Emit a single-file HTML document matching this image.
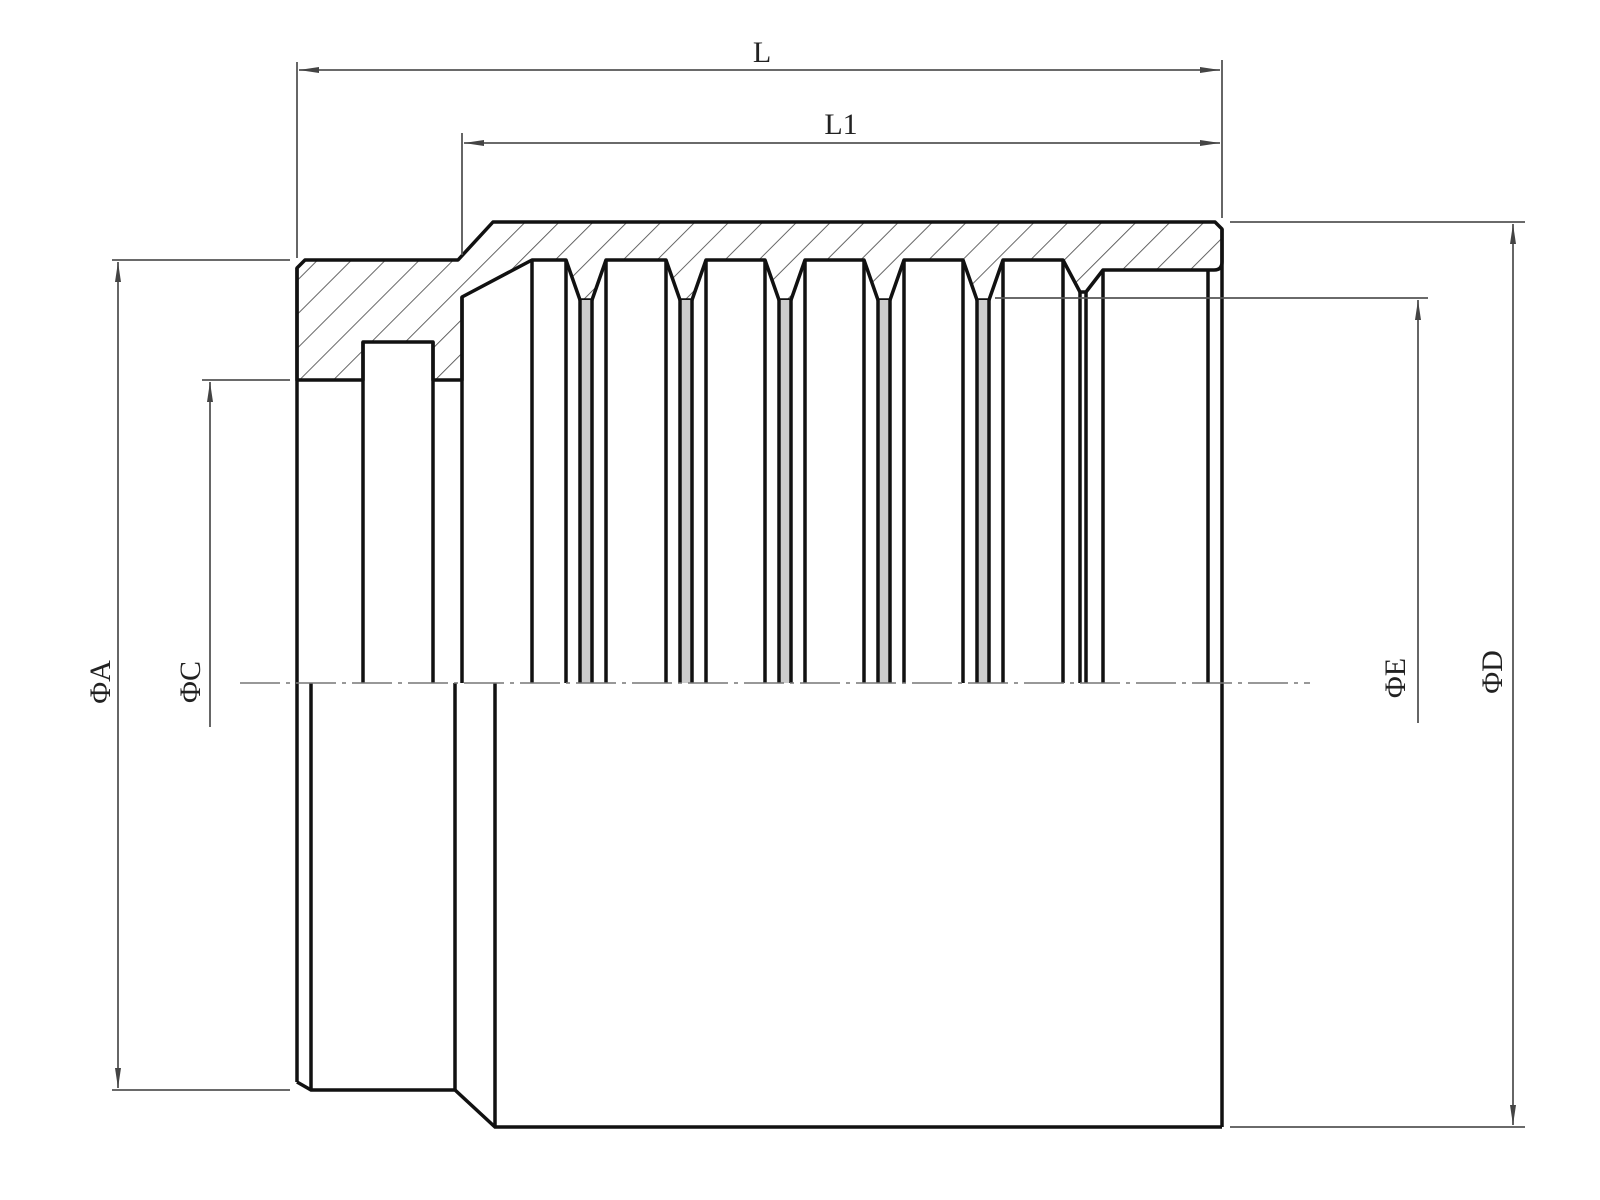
<!DOCTYPE html>
<html><head><meta charset="utf-8"><style>html,body{margin:0;padding:0;background:#fff}svg{display:block}</style></head>
<body>
<svg width="1600" height="1200" viewBox="0 0 1600 1200" xmlns="http://www.w3.org/2000/svg">
<defs>
<pattern id="h" patternUnits="userSpaceOnUse" width="24" height="24" patternTransform="rotate(45)">
<line x1="0" y1="0" x2="0" y2="24" stroke="#555" stroke-width="1.8"/>
</pattern>
<marker id="a" viewBox="0 0 20 8" refX="20" refY="4" markerWidth="20" markerHeight="8" markerUnits="userSpaceOnUse" orient="auto-start-reverse">
<path d="M0,1 L20,4 L0,7 Z" fill="#444"/>
</marker>
</defs>
<rect width="1600" height="1200" fill="#fff"/>

<path d="M297,268 L305,260 L458,260 L493,222 L1215,222 L1222,229 L1222,262 Q1222,270 1214,270 L1103,270 L1086,292 L1080,292 L1063,260
L1003,260 L989,300 L977,300 L963,260
L904,260 L890,300 L878,300 L864,260
L805,260 L791,300 L779,300 L765,260
L706,260 L692,300 L680,300 L666,260
L606,260 L592,300 L580,300 L566,260
L532,260 L462,297 L462,380 L433,380 L433,342 L363,342 L363,380 L297,380 Z"
fill="url(#h)" stroke="#111" stroke-width="3.5" stroke-linejoin="round"/>

<g fill="#ccc">
<rect x="580" y="300" width="12" height="383"/>
<rect x="680" y="300" width="12" height="383"/>
<rect x="779" y="300" width="12" height="383"/>
<rect x="878" y="300" width="12" height="383"/>
<rect x="977" y="300" width="12" height="383"/>
</g>

<g stroke="#111" stroke-width="3.5" fill="none">
<line x1="297" y1="268" x2="297" y2="1082"/>
<line x1="363" y1="342" x2="363" y2="683"/>
<line x1="433" y1="342" x2="433" y2="683"/>
<line x1="462" y1="297" x2="462" y2="683"/>
<line x1="532" y1="260" x2="532" y2="683"/>
<line x1="566" y1="260" x2="566" y2="683"/><line x1="580" y1="300" x2="580" y2="683"/><line x1="592" y1="300" x2="592" y2="683"/><line x1="606" y1="260" x2="606" y2="683"/>
<line x1="666" y1="260" x2="666" y2="683"/><line x1="680" y1="300" x2="680" y2="683"/><line x1="692" y1="300" x2="692" y2="683"/><line x1="706" y1="260" x2="706" y2="683"/>
<line x1="765" y1="260" x2="765" y2="683"/><line x1="779" y1="300" x2="779" y2="683"/><line x1="791" y1="300" x2="791" y2="683"/><line x1="805" y1="260" x2="805" y2="683"/>
<line x1="864" y1="260" x2="864" y2="683"/><line x1="878" y1="300" x2="878" y2="683"/><line x1="890" y1="300" x2="890" y2="683"/><line x1="904" y1="260" x2="904" y2="683"/>
<line x1="963" y1="260" x2="963" y2="683"/><line x1="977" y1="300" x2="977" y2="683"/><line x1="989" y1="300" x2="989" y2="683"/><line x1="1003" y1="260" x2="1003" y2="683"/>
<line x1="1063" y1="260" x2="1063" y2="683"/><line x1="1080" y1="292" x2="1080" y2="683"/><line x1="1086" y1="292" x2="1086" y2="683"/><line x1="1103" y1="270" x2="1103" y2="683"/>
<line x1="1208" y1="270" x2="1208" y2="683"/>
<line x1="1222" y1="229" x2="1222" y2="1127"/>
<path d="M297,1082 L311,1090 L455,1090 L495,1127 L1222,1127"/>
<line x1="311" y1="683" x2="311" y2="1090"/>
<line x1="455" y1="683" x2="455" y2="1090"/>
<line x1="495" y1="683" x2="495" y2="1127"/>
</g>

<line x1="240" y1="683" x2="1310" y2="683" stroke="#777" stroke-width="1.5" stroke-dasharray="40,6,4,6"/>

<g stroke="#555" stroke-width="1.8" fill="none">
<line x1="297" y1="62" x2="297" y2="258"/>
<line x1="462" y1="133" x2="462" y2="255"/>
<line x1="1222" y1="60" x2="1222" y2="218"/>
<line x1="299" y1="70" x2="1220" y2="70" marker-start="url(#a)" marker-end="url(#a)"/>
<line x1="464" y1="143" x2="1220" y2="143" marker-start="url(#a)" marker-end="url(#a)"/>

<line x1="1230" y1="222" x2="1525" y2="222"/>
<line x1="1230" y1="1127" x2="1525" y2="1127"/>
<line x1="1513" y1="224" x2="1513" y2="1125" marker-start="url(#a)" marker-end="url(#a)"/>

<line x1="995" y1="298" x2="1428" y2="298"/>
<line x1="1418" y1="300" x2="1418" y2="723" marker-start="url(#a)"/>

<line x1="112" y1="260" x2="290" y2="260"/>
<line x1="112" y1="1090" x2="290" y2="1090"/>
<line x1="118" y1="262" x2="118" y2="1088" marker-start="url(#a)" marker-end="url(#a)"/>

<line x1="202" y1="380" x2="290" y2="380"/>
<line x1="210" y1="382" x2="210" y2="727" marker-start="url(#a)"/>
</g>

<g font-family="Liberation Serif, serif" font-size="30" fill="#222">
<text x="762" y="62" text-anchor="middle">L</text>
<text x="841" y="134" text-anchor="middle">L1</text>
<text transform="translate(110,682) rotate(-90)" text-anchor="middle">ΦA</text>
<text transform="translate(200,682) rotate(-90)" text-anchor="middle">ΦC</text>
<text transform="translate(1405,678) rotate(-90)" text-anchor="middle">ΦE</text>
<text transform="translate(1502,672) rotate(-90)" text-anchor="middle">ΦD</text>
</g>
</svg>
</body></html>
